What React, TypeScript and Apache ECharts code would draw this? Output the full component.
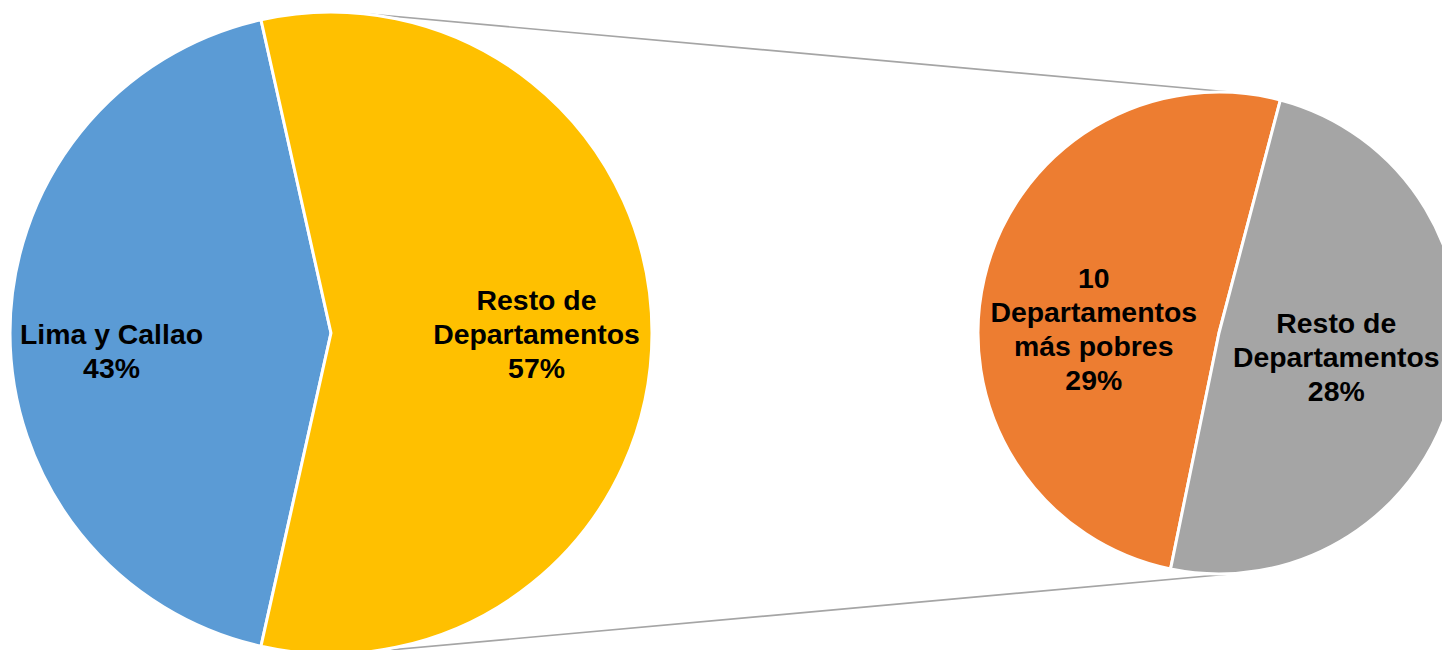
import React, { useEffect, useRef } from "react";
import * as echarts from "echarts";

// ---- data ----
const mainNames = ["Lima y Callao", "Resto de\nDepartamentos"];
const mainValues = [43, 57];
const subNames = ["10\nDepartamentos\nmás pobres", "Resto de\nDepartamentos"];
const subValues = [29, 28];

// ---- styles / layout ----
const MAIN_COLORS = ["#5B9BD5", "#FFC000"];
const SUB_COLORS = ["#ED7D31", "#A5A5A5"];
const MAIN = { cx: 331, cy: 333, r: 321 };
const SUB = { cx: 1219, cy: 333, r: 241 };
const SUB_START = 258.4;
const MAIN_SHIFT = [
  [-56, 18],
  [42, 1],
];
const SUB_SHIFT = [
  [-5, 24],
  [-3, -4],
];
const FONT = 'Arial, "Liberation Sans", sans-serif';

function tangentPoints(sign: number) {
  const d = SUB.cx - MAIN.cx;
  const nx = (MAIN.r - SUB.r) / d;
  const ny = sign * Math.sqrt(1 - nx * nx);
  return {
    x1: MAIN.cx + MAIN.r * nx,
    y1: MAIN.cy + MAIN.r * ny,
    x2: SUB.cx + SUB.r * nx,
    y2: SUB.cy + SUB.r * ny,
  };
}

export default function App() {
  const ref = useRef<HTMLDivElement>(null);
  useEffect(() => {
    if (!ref.current) return;
    const chart = echarts.init(ref.current, null, { renderer: "svg" });
    const mainTotal = mainValues.reduce((a, b) => a + b, 0);
    const mainStart = 360 - ((mainValues[1] / mainTotal) * 360) / 2;
    const labelStyle = {
      show: true,
      position: "inside",
      formatter: "{b}\n{c}%",
      color: "#000",
      fontFamily: FONT,
      fontWeight: "bold",
      fontSize: 28.4,
      lineHeight: 34,
      align: "center",
      verticalAlign: "middle",
    };
    const lineStyle = { stroke: "#A5A5A5", lineWidth: 1.6 };
    chart.setOption({
      animation: false,
      backgroundColor: "#fff",
      graphic: [
        { type: "line", z: 0, shape: tangentPoints(-1), style: lineStyle, silent: true },
        { type: "line", z: 0, shape: tangentPoints(1), style: lineStyle, silent: true },
      ],
      series: [
        {
          type: "pie",
          z: 5,
          center: [MAIN.cx, MAIN.cy],
          radius: MAIN.r,
          startAngle: mainStart,
          clockwise: true,
          silent: true,
          emphasis: { disabled: true },
          itemStyle: { borderColor: "#fff", borderWidth: 3 },
          label: labelStyle,
          labelLine: { show: false },
          labelLayout: (p: any) => ({ dx: MAIN_SHIFT[p.dataIndex][0], dy: MAIN_SHIFT[p.dataIndex][1] }),
          data: mainNames.map((n, i) => ({
            name: n,
            value: mainValues[i],
            itemStyle: { color: MAIN_COLORS[i] },
          })),
        },
        {
          type: "pie",
          z: 5,
          center: [SUB.cx, SUB.cy],
          radius: SUB.r,
          startAngle: SUB_START,
          clockwise: true,
          silent: true,
          emphasis: { disabled: true },
          itemStyle: { borderColor: "#fff", borderWidth: 3 },
          label: labelStyle,
          labelLine: { show: false },
          labelLayout: (p: any) => ({ dx: SUB_SHIFT[p.dataIndex][0], dy: SUB_SHIFT[p.dataIndex][1] }),
          data: subNames.map((n, i) => ({
            name: n,
            value: subValues[i],
            itemStyle: { color: SUB_COLORS[i] },
          })),
        },
      ],
    });
    return () => chart.dispose();
  }, []);
  return (
    <div
      ref={ref}
      style={{ position: "fixed", left: 0, top: 0, width: 1442, height: 650 }}
    />
  );
}
